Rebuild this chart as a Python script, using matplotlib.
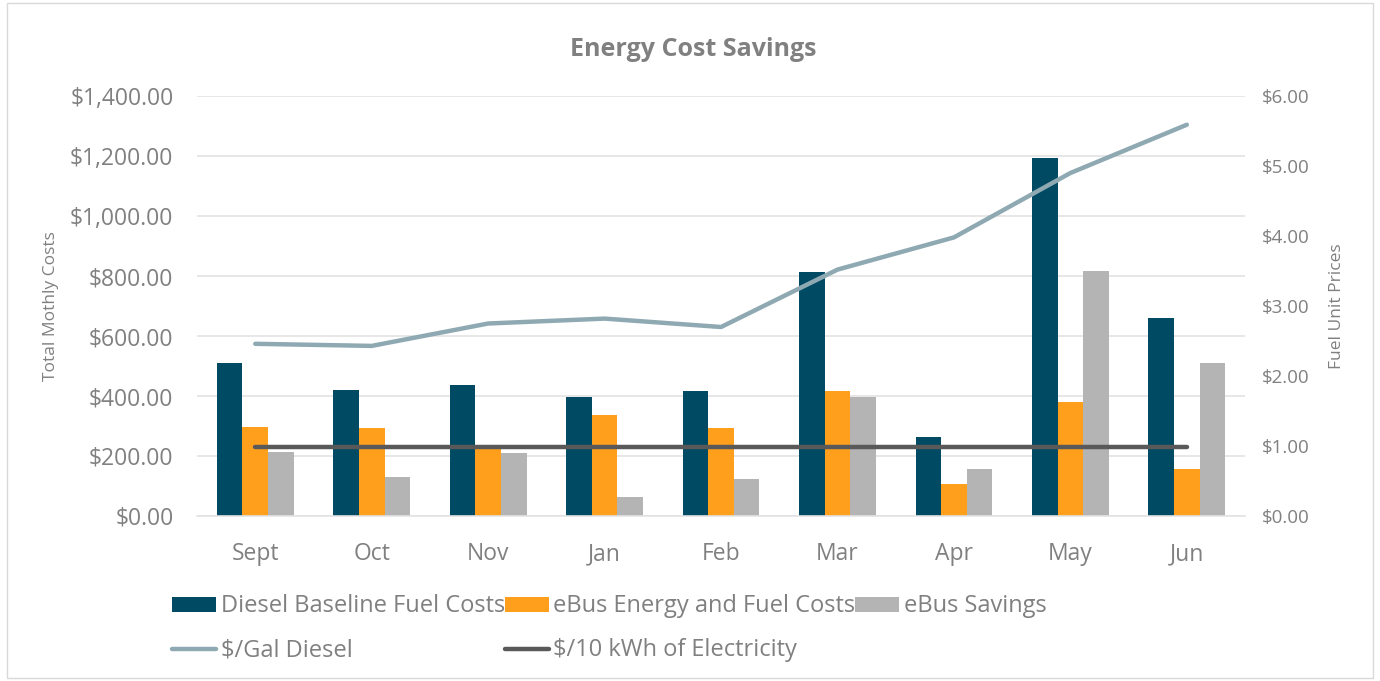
import numpy as np
import matplotlib.pyplot as plt
from matplotlib.ticker import FuncFormatter, MultipleLocator
from matplotlib.patches import Rectangle

plt.rcParams['font.family'] = ['Open Sans', 'DejaVu Sans']

# Data
months = ["Sept", "Oct", "Nov", "Jan", "Feb", "Mar", "Apr", "May", "Jun"]
diesel_costs = [510, 420, 437, 397, 417, 813, 263, 1193, 660]
ebus_costs = [297, 293, 222, 337, 293, 417, 107, 380, 157]
ebus_savings = [213, 130, 210, 63, 123, 397, 157, 817, 510]
diesel_price = [2.46, 2.43, 2.75, 2.82, 2.70, 3.52, 3.98, 4.90, 5.59]
elec_price = [0.98, 0.98, 0.98, 0.98, 0.98, 0.98, 0.98, 0.98, 0.98]

c_diesel = "#004A63"
c_ebus = "#FF9F1C"
c_save = "#B4B4B4"
c_gal = "#8FA9B3"
c_elec = "#595959"
c_text = "#808080"
c_grid = "#E3E3E3"

fig = plt.figure(figsize=(13.8, 6.81), dpi=100)
fig.patches.append(Rectangle((0.005, 0.005), 0.99, 0.99, transform=fig.transFigure,
                             fill=False, edgecolor="#D9D9D9", linewidth=1))

ax = fig.add_axes([0.1428, 0.2423, 0.7594, 0.6167])
ax2 = ax.twinx()

x = np.arange(len(months))
w = 0.22
b1 = ax.bar(x - w, diesel_costs, w, color=c_diesel, zorder=2)
b2 = ax.bar(x, ebus_costs, w, color=c_ebus, zorder=2)
b3 = ax.bar(x + w, ebus_savings, w, color=c_save, zorder=2)

l1, = ax2.plot(x, diesel_price, color=c_gal, linewidth=3.2, solid_capstyle="round")
l2, = ax2.plot(x, elec_price, color=c_elec, linewidth=3.2, solid_capstyle="round")

ax.set_xlim(-0.5, len(months) - 0.5)
ax.set_ylim(0, 1400)
ax2.set_ylim(0, 6)
ax.yaxis.set_major_locator(MultipleLocator(200))
ax2.yaxis.set_major_locator(MultipleLocator(1))
ax.yaxis.set_major_formatter(FuncFormatter(lambda v, p: f"${v:,.2f}"))
ax2.yaxis.set_major_formatter(FuncFormatter(lambda v, p: f"${v:,.2f}"))

ax.set_xticks(x)
ax.set_xticklabels(months)
ax.grid(axis="y", color=c_grid, linewidth=1.2, zorder=0)
ax.set_axisbelow(True)

for a in (ax, ax2):
    for s in a.spines.values():
        s.set_visible(False)
ax.spines["bottom"].set_visible(True)
ax.spines["bottom"].set_color(c_grid)
ax.spines["bottom"].set_linewidth(1.2)

ax.tick_params(axis="y", length=0, labelsize=16.5, labelcolor=c_text, pad=17)
ax.tick_params(axis="x", length=0, labelsize=16.5, labelcolor=c_text, pad=19)
ax2.tick_params(axis="y", length=0, labelsize=13.5, labelcolor=c_text, pad=12)

ax.set_ylabel("Total Mothly Costs", fontsize=12.5, color=c_text, labelpad=8)
ax2.set_ylabel("Fuel Unit Prices", fontsize=12.5, color=c_text, labelpad=14)

fig.text(0.502, 0.928, "Energy Cost Savings", ha="center", va="center",
         fontsize=18, fontweight="bold", color=c_text)

handles = [b1, l1, b2, l2, b3]
labels = ["Diesel Baseline Fuel Costs", "$/Gal Diesel", "eBus Energy and Fuel Costs",
          "$/10 kWh of Electricity", "eBus Savings"]
leg = fig.legend(handles, labels, ncol=3, loc="upper left", bbox_to_anchor=(0.118, 0.141),
                 frameon=False, fontsize=17, labelcolor=c_text, handlelength=1.85,
                 handleheight=0.6, handletextpad=0.2, columnspacing=0.0, labelspacing=0.85,
                 borderaxespad=0)

fig.savefig("out.png", dpi=100)
